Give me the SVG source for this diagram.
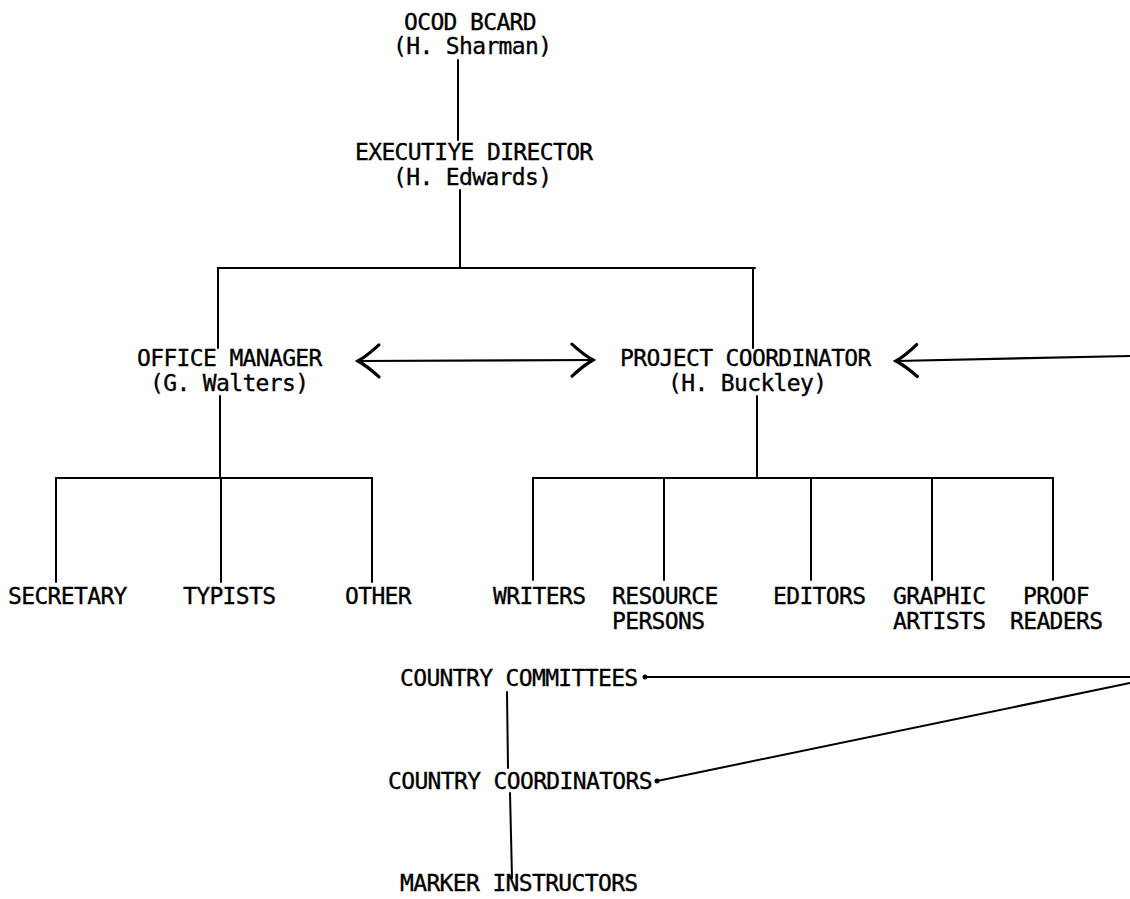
<svg xmlns="http://www.w3.org/2000/svg" width="1130" height="899" viewBox="0 0 1130 899">
<style>
  text { font-family: "DejaVu Sans Mono", "Liberation Mono", monospace; font-size: 23px; letter-spacing: -0.65px; fill: #000; stroke: #000; stroke-width: 0.35px; }
  .ln { stroke: #000; stroke-width: 2; fill: none; stroke-linecap: round; }
  .ar { stroke: #000; stroke-width: 2.2; fill: none; }
</style>
<defs>
  <marker id="openArrow" viewBox="-24 -18 27 36" refX="0" refY="0" markerWidth="27" markerHeight="36" markerUnits="userSpaceOnUse" orient="auto-start-reverse" overflow="visible">
    <path d="M-21,-16 Q-9,-5 0,0 Q-9,5 -21,16" fill="none" stroke="#000" stroke-width="3.2" stroke-linecap="round"/>
  </marker>
</defs>
<rect width="1130" height="899" fill="#fff"/>

<g id="connectors">
  <line class="ln" x1="458" y1="60" x2="458" y2="140"/>
  <line class="ln" x1="460" y1="190" x2="460" y2="268"/>
  <line class="ln" x1="218" y1="268" x2="755" y2="268"/>
  <line class="ln" x1="218" y1="268" x2="218" y2="348"/>
  <line class="ln" x1="753" y1="268" x2="753" y2="348"/>
  <line class="ar" x1="358" y1="361" x2="593" y2="360" marker-start="url(#openArrow)" marker-end="url(#openArrow)"/>
  <line class="ar" x1="1130" y1="356" x2="896" y2="361" marker-end="url(#openArrow)"/>
  <line class="ln" x1="220" y1="396" x2="220" y2="478"/>
  <line class="ln" x1="56" y1="478" x2="372" y2="478"/>
  <line class="ln" x1="56" y1="478" x2="56" y2="582"/>
  <line class="ln" x1="221" y1="478" x2="221" y2="582"/>
  <line class="ln" x1="372" y1="478" x2="372" y2="582"/>
  <line class="ln" x1="757" y1="396" x2="757" y2="478"/>
  <line class="ln" x1="533" y1="478" x2="1053" y2="478"/>
  <line class="ln" x1="533" y1="478" x2="533" y2="580"/>
  <line class="ln" x1="664" y1="478" x2="664" y2="580"/>
  <line class="ln" x1="811" y1="478" x2="811" y2="580"/>
  <line class="ln" x1="932" y1="478" x2="932" y2="580"/>
  <line class="ln" x1="1053" y1="478" x2="1053" y2="580"/>
  <line class="ln" x1="645" y1="677" x2="1130" y2="677"/>
  <circle cx="645" cy="677" r="2.5" fill="#000"/>
  <line class="ln" x1="657" y1="781" x2="1130" y2="683"/>
  <circle cx="657" cy="781" r="2.5" fill="#000"/>
  <line class="ln" x1="507" y1="692" x2="508" y2="768"/>
  <line class="ln" x1="510" y1="793" x2="512" y2="878"/>
</g>

<g id="board"><text x="404" y="30">OCOD BCARD</text><text x="393" y="54">(H. Sharman)</text></g>
<g id="executive-director"><text x="355" y="160">EXECUTIYE DIRECTOR</text><text x="393" y="185">(H. Edwards)</text></g>
<g id="office-manager"><text x="137" y="366">OFFICE MANAGER</text><text x="150" y="391">(G. Walters)</text></g>
<g id="project-coordinator"><text x="620" y="366">PROJECT COORDINATOR</text><text x="668" y="391">(H. Buckley)</text></g>
<g id="secretary"><text x="8" y="604">SECRETARY</text></g>
<g id="typists"><text x="183" y="604">TYPISTS</text></g>
<g id="other"><text x="345" y="604">OTHER</text></g>
<g id="writers"><text x="493" y="604">WRITERS</text></g>
<g id="resource-persons"><text x="612" y="604">RESOURCE</text><text x="612" y="629">PERSONS</text></g>
<g id="editors"><text x="773" y="604">EDITORS</text></g>
<g id="graphic-artists"><text x="893" y="604">GRAPHIC</text><text x="893" y="629">ARTISTS</text></g>
<g id="proof-readers"><text x="1023" y="604">PROOF</text><text x="1010" y="629">READERS</text></g>
<g id="country-committees"><text x="400" y="686">COUNTRY COMMITTEES</text></g>
<g id="country-coordinators"><text x="388" y="789">COUNTRY COORDINATORS</text></g>
<g id="marker-instructors"><text x="400" y="891">MARKER INSTRUCTORS</text></g>
</svg>
